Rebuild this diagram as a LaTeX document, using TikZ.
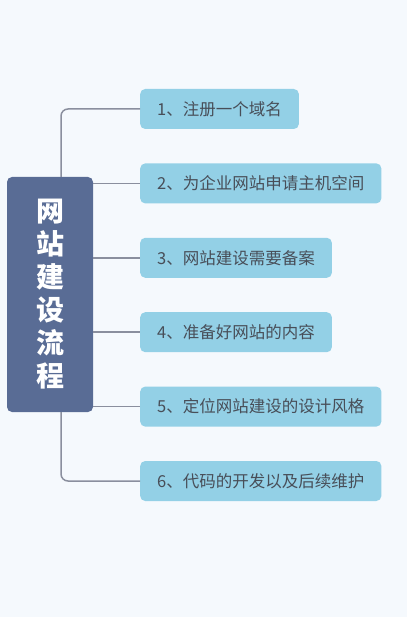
\documentclass[tikz,border=0pt]{standalone}
\usepackage{fontspec}
\setmainfont{Noto Sans CJK SC}
\usetikzlibrary{positioning}
\definecolor{bgblue}{RGB}{245,249,253}
\definecolor{rootblue}{RGB}{89,108,149}
\definecolor{stepblue}{RGB}{147,208,230}
\definecolor{linegray}{RGB}{138,143,158}
\definecolor{textgray}{RGB}{72,78,88}
\tikzset{
    root/.style = {
        fill = rootblue,
        text = white,
        rounded corners = 5pt,
        minimum width = 86pt,
        minimum height = 235pt,
        inner sep = 0pt,
        align = center,
        font = \fontsize{28}{33}\selectfont\bfseries,
        },
    stepbox/.style = {
        fill = stepblue,
        text = textgray,
        rounded corners = 5pt,
        minimum height = 40pt,
        inner xsep = 17pt,
        anchor = west,
        font = \fontsize{16.5}{18}\selectfont,
        },
    link/.style = {
        draw = linegray,
        line width = 1.5pt,
        rounded corners = 7pt,
        },
}

\begin{document}
\begin{tikzpicture}[x=1pt, y=1pt]
            \fill[bgblue] (0,0) rectangle (407,-617);
            \useasboundingbox (0,0) rectangle (412,-617);

            \node[root] (root) at (50,-294.5) {网\\站\\建\\设\\流\\程};
            \node[stepbox] (s1) at (140,-109) {1、注册一个域名};
            \node[stepbox, below=34pt of s1.south west, anchor=north west] (s2) {2、为企业网站申请主机空间};
            \node[stepbox, below=34pt of s2.south west, anchor=north west] (s3) {3、网站建设需要备案};
            \node[stepbox, below=34pt of s3.south west, anchor=north west] (s4) {4、准备好网站的内容};
            \node[stepbox, below=34pt of s4.south west, anchor=north west] (s5) {5、定位网站建设的设计风格};
            \node[stepbox, below=34pt of s5.south west, anchor=north west] (s6) {6、代码的开发以及后续维护};

            \coordinate (rt) at ([xshift=11pt]root.north);
            \coordinate (rb) at ([xshift=11pt]root.south);

            \draw[link] (rt) |- (s1.west);
            \draw[link] (rb) |- (s6.west);
            \foreach \i in {2,...,5}
                \draw[link] (root.east |- s\i.west) -- (s\i.west);
        \end{tikzpicture}
\end{document}
